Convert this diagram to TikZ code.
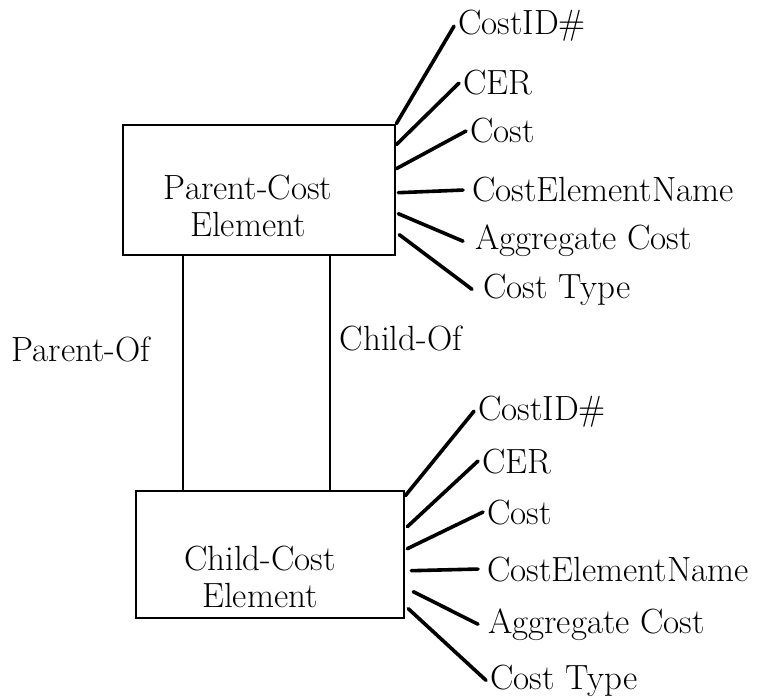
\documentclass[tikz,border=0pt]{standalone}
\usepackage{fontspec}
\begin{document}
\begin{tikzpicture}[x=1pt, y=-1pt, line cap=round,
		every node/.style={font=\fontsize{35}{37}\selectfont},
		entbox/.style={draw, line width=2.6pt, inner sep=0pt},
		attr/.style={anchor=base west, inner xsep=4pt, inner ysep=0pt},
		attrline/.style={line width=3.6pt},
		relline/.style={line width=2pt}]
	\useasboundingbox (0,0) rectangle (761,698);
	
	% 两个实体框 (框与文字分开放，文字略偏左下)
	\node[entbox, minimum width=272pt, minimum height=130pt] (parent) at (259,190) {};
	\node[entbox, minimum width=268pt, minimum height=127pt] (child) at (270,554.5) {};
	\node[align=center] (parentname) at (248,206) {Parent-Cost\\Element};
	\node[align=center] (childname) at (260,577) {Child-Cost\\Element};
	
	% 上方实体的属性
	\node[attr] (pid) at (454,35) {CostID\#};
	\node[attr] (pcer) at (459,95) {CER};
	\node[attr] (pcost) at (466,143) {Cost};
	\node[attr] (pname) at (468,202) {CostElementName};
	\node[attr] (pagg) at (471,250) {Aggregate Cost};
	\node[attr] (ptype) at (479,298) {Cost Type};
	\draw[attrline] (parent.north east) -- (pid.west);
	\draw[attrline] ([yshift=-21pt]parent.north east) -- (pcer.west);
	\draw[attrline] ([yshift=-45pt]parent.north east) -- (pcost.west);
	\draw[attrline] ([xshift=2pt,yshift=-69pt]parent.north east) -- ([xshift=-5pt]pname.west);
	\draw[attrline] ([xshift=2pt,yshift=-90pt]parent.north east) -- ([xshift=-8pt]pagg.west);
	\draw[attrline] ([xshift=3pt,yshift=-111pt]parent.north east) -- ([xshift=-7pt]ptype.west);
	
	% 下方实体的属性
	\node[attr] (cid) at (474,420) {CostID\#};
	\node[attr] (ccer) at (478,473) {CER};
	\node[attr] (ccost) at (483,524) {Cost};
	\node[attr] (cname) at (483,581) {CostElementName};
	\node[attr] (cagg) at (484,633) {Aggregate Cost};
	\node[attr] (ctype) at (486,689) {Cost Type};
	\draw[attrline] ([yshift=-6pt]child.north east) -- (cid.west);
	\draw[attrline] ([xshift=2pt,yshift=-37pt]child.north east) -- (ccer.west);
	\draw[attrline] ([xshift=2pt,yshift=-59pt]child.north east) -- (ccost.west);
	\draw[attrline] ([xshift=6pt,yshift=-81pt]child.north east) -- ([xshift=-5pt]cname.west);
	\draw[attrline] ([xshift=8pt,yshift=-102pt]child.north east) -- ([xshift=-6pt]cagg.west);
	\draw[attrline] ([xshift=3pt,yshift=-119pt]child.north east) -- (ctype.west);
	
	% 两条联系线及其名称
	\draw[relline] ([xshift=61pt]parent.south west) -- ([xshift=61pt]parent.south west |- child.north);
	\draw[relline] ([xshift=208pt]parent.south west) -- ([xshift=208pt]parent.south west |- child.north);
	\node (parentof) at (81,349) {Parent-Of};
	\node (childof) at (401,338) {Child-Of};
\end{tikzpicture}
\end{document}
